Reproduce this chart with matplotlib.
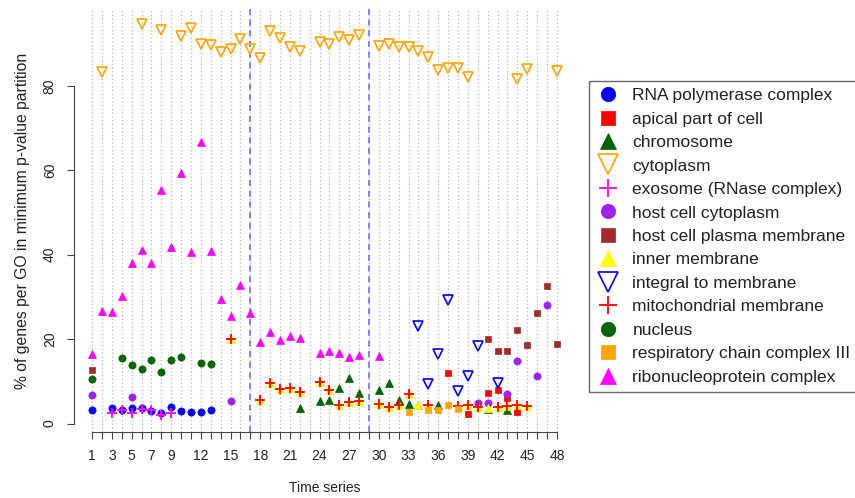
import numpy as np
import matplotlib.pyplot as plt

plt.rcParams['font.family'] = ['Liberation Sans', 'DejaVu Sans']

# values (x = time series index, y = %)
rna_pol_x = [1, 3, 4, 5, 6, 7, 8, 9, 10, 11, 12, 13]
rna_pol_y = [3.3, 3.8, 3.2, 3.6, 3.6, 2.9, 2.5, 3.9, 2.9, 2.8, 2.8, 3.1]

apical_x = [37, 39, 41, 42, 43, 44]
apical_y = [11.9, 2.3, 7.3, 8.0, 6.1, 2.7]

chromosome_x = [22, 24, 25, 26, 27, 28, 30, 31, 32, 33, 34, 36, 41, 43]
chromosome_y = [3.6, 5.4, 5.5, 8.4, 10.7, 7.2, 7.9, 9.5, 5.6, 4.7, 4.3, 4.3, 3.4, 3.1]

cytoplasm_x = [2, 6, 8, 10, 11, 12, 13, 14, 15, 16, 17, 18, 19, 20, 21, 22,
               24, 25, 26, 27, 28, 30, 31, 32, 33, 34, 35, 36, 37, 38, 39,
               44, 45, 48]
cytoplasm_y = [83.2, 94.6, 93.2, 91.8, 93.6, 90.0, 89.7, 88.0, 88.7, 91.2,
               88.8, 86.5, 92.9, 91.3, 89.3, 88.3, 90.4, 89.9, 91.6, 90.8,
               92.1, 89.5, 89.8, 89.1, 89.1, 88.3, 86.9, 83.8, 84.3, 84.3,
               82.0, 81.7, 83.9, 83.4]

exosome_x = [3, 4, 5, 6, 7, 8, 9]
exosome_y = [2.4, 3.1, 2.4, 3.5, 3.1, 2.0, 2.4]

host_cyto_x = [1, 5, 15, 40, 41, 43, 44, 46, 47]
host_cyto_y = [6.8, 6.2, 5.4, 4.9, 4.9, 7.0, 14.9, 11.2, 28.2]

host_pm_x = [1, 41, 42, 43, 44, 45, 46, 47, 48]
host_pm_y = [12.8, 20.0, 17.3, 17.2, 22.2, 18.5, 26.3, 32.7, 18.9]

inner_x = [15, 18, 19, 20, 21, 22, 24, 25, 26, 27, 28, 30, 31, 32, 33, 34,
           35, 38, 39, 40, 41, 42, 43, 44, 45]
inner_y = [20.0, 5.6, 9.7, 8.3, 8.5, 7.4, 9.9, 7.9, 4.5, 5.2, 5.4, 4.7, 4.0,
           4.3, 7.0, 4.3, 4.3, 4.0, 4.4, 4.0, 3.6, 3.9, 4.1, 4.4, 4.1]

integral_x = [34, 35, 36, 37, 38, 39, 40, 42]
integral_y = [23.0, 9.4, 16.4, 29.3, 7.8, 11.2, 18.4, 9.6]

mito_x = [15, 18, 19, 20, 21, 22, 24, 25, 26, 27, 28, 30, 31, 32, 33, 35,
          38, 39, 40, 42, 43, 44, 45]
mito_y = [20.0, 5.6, 9.7, 8.3, 8.5, 7.4, 9.9, 7.9, 4.5, 5.2, 5.4, 4.7, 4.0,
          4.3, 7.0, 4.3, 4.2, 4.4, 4.0, 3.9, 4.1, 4.4, 4.1]

nucleus_x = [1, 4, 5, 6, 7, 8, 9, 10, 12, 13]
nucleus_y = [10.6, 15.6, 13.9, 13.0, 15.1, 12.1, 15.1, 15.7, 14.4, 14.1]

resp_x = [33, 35, 36, 37, 38]
resp_y = [2.7, 3.1, 3.1, 4.5, 3.5]

ribo_x = [1, 2, 3, 4, 5, 6, 7, 8, 9, 10, 11, 12, 13, 14, 15, 16, 17, 18, 19,
          20, 21, 22, 24, 25, 26, 27, 28, 30]
ribo_y = [16.4, 26.6, 26.4, 30.2, 38.1, 41.2, 38.1, 55.3, 41.8, 59.3, 40.7,
          66.6, 40.9, 29.4, 25.5, 32.9, 26.1, 19.4, 21.7, 19.8, 20.7, 20.2,
          16.7, 17.3, 16.8, 15.7, 16.2, 16.1]

tick_labels = {1: '1', 3: '3', 5: '5', 7: '7', 9: '9', 12: '12', 15: '15',
               18: '18', 21: '21', 24: '24', 27: '27', 30: '30', 33: '33',
               36: '36', 39: '39', 42: '42', 45: '45', 48: '48'}
breaks = [17, 29]

series = [
    ('RNA polymerase complex', rna_pol_x, rna_pol_y, 'o', '#0000ff', True),
    ('apical part of cell', apical_x, apical_y, 's', '#ff0000', True),
    ('chromosome', chromosome_x, chromosome_y, '^', '#006400', True),
    ('cytoplasm', cytoplasm_x, cytoplasm_y, 'v', '#ffa500', False),
    ('exosome (RNase complex)', exosome_x, exosome_y, '+', '#ff00ff', True),
    ('host cell cytoplasm', host_cyto_x, host_cyto_y, 'o', '#a020f0', True),
    ('host cell plasma membrane', host_pm_x, host_pm_y, 's', '#a52a2a', True),
    ('inner membrane', inner_x, inner_y, '^', '#ffff00', True),
    ('integral to membrane', integral_x, integral_y, 'v', '#0000ff', False),
    ('mitochondrial membrane', mito_x, mito_y, '+', '#ff0000', True),
    ('nucleus', nucleus_x, nucleus_y, 'o', '#006400', True),
    ('respiratory chain complex III', resp_x, resp_y, 's', '#ffa500', True),
    ('ribonucleoprotein complex', ribo_x, ribo_y, '^', '#ff00ff', True),
]
sizes = {'o': 5.2, 's': 5.0, '^': 6.0, 'v': 7.0, '+': 6.5}

fig = plt.figure(figsize=(8.55, 4.98), dpi=100)
ax = fig.add_axes([73.5 / 855, 66 / 498, 502 / 855, 423 / 498])

handles = []
for name, xs, ys, m, c, filled in series:
    if filled:
        h, = ax.plot(xs, ys, ls='none', marker=m, ms=sizes[m], color=c,
                     mec=c, mew=1.3 if m == '+' else 0.5, label=name)
    else:
        h, = ax.plot(xs, ys, ls='none', marker=m, ms=sizes[m], mfc='none',
                     mec=c, mew=1.2, label=name)
    handles.append(h)

for b in breaks:
    ax.axvline(b, color='#6464ff', lw=1.1, ls=(0, (4, 3)), zorder=1)

ax.set_xlim(-0.88, 49.88)
ax.set_ylim(-2.0, 98.2)
ax.set_xticks(range(1, 49))
ax.set_xticklabels([tick_labels.get(i, '') for i in range(1, 49)])
ax.set_yticks([0, 20, 40, 60, 80])
ax.grid(axis='x', color='#b4b4b4', ls=(0, (1, 2)), lw=0.9, zorder=0)
ax.set_axisbelow(True)

for s in ('top', 'right'):
    ax.spines[s].set_visible(False)
ax.spines['left'].set_bounds(0, 80)
ax.spines['bottom'].set_bounds(1, 48)
for s in ('left', 'bottom'):
    ax.spines[s].set_color('#444444')
ax.tick_params(length=5, color='#444444', labelsize=10, labelcolor='#222222')
ax.tick_params(axis='x', pad=7)
ax.tick_params(axis='y', pad=7)
plt.setp(ax.get_yticklabels(), rotation=90, va='center')

ax.set_xlabel('Time series', fontsize=10, color='#222222', labelpad=13)
ax.set_ylabel('% of genes per GO in minimum p-value partition', fontsize=11.3,
              color='#222222', labelpad=9)

leg = fig.legend(handles=handles, loc='upper left',
                 bbox_to_anchor=(589 / 855, 1 - 81 / 498), borderaxespad=0,
                 fontsize=12.5, markerscale=2.0, handlelength=1.35,
                 handletextpad=0.75, labelspacing=0.48, borderpad=0.4,
                 fancybox=False, frameon=True)
leg.get_frame().set_edgecolor('#444444')
leg.get_frame().set_linewidth(1.0)
for t in leg.get_texts():
    t.set_color('#222222')

fig.savefig('out.png', dpi=100)
